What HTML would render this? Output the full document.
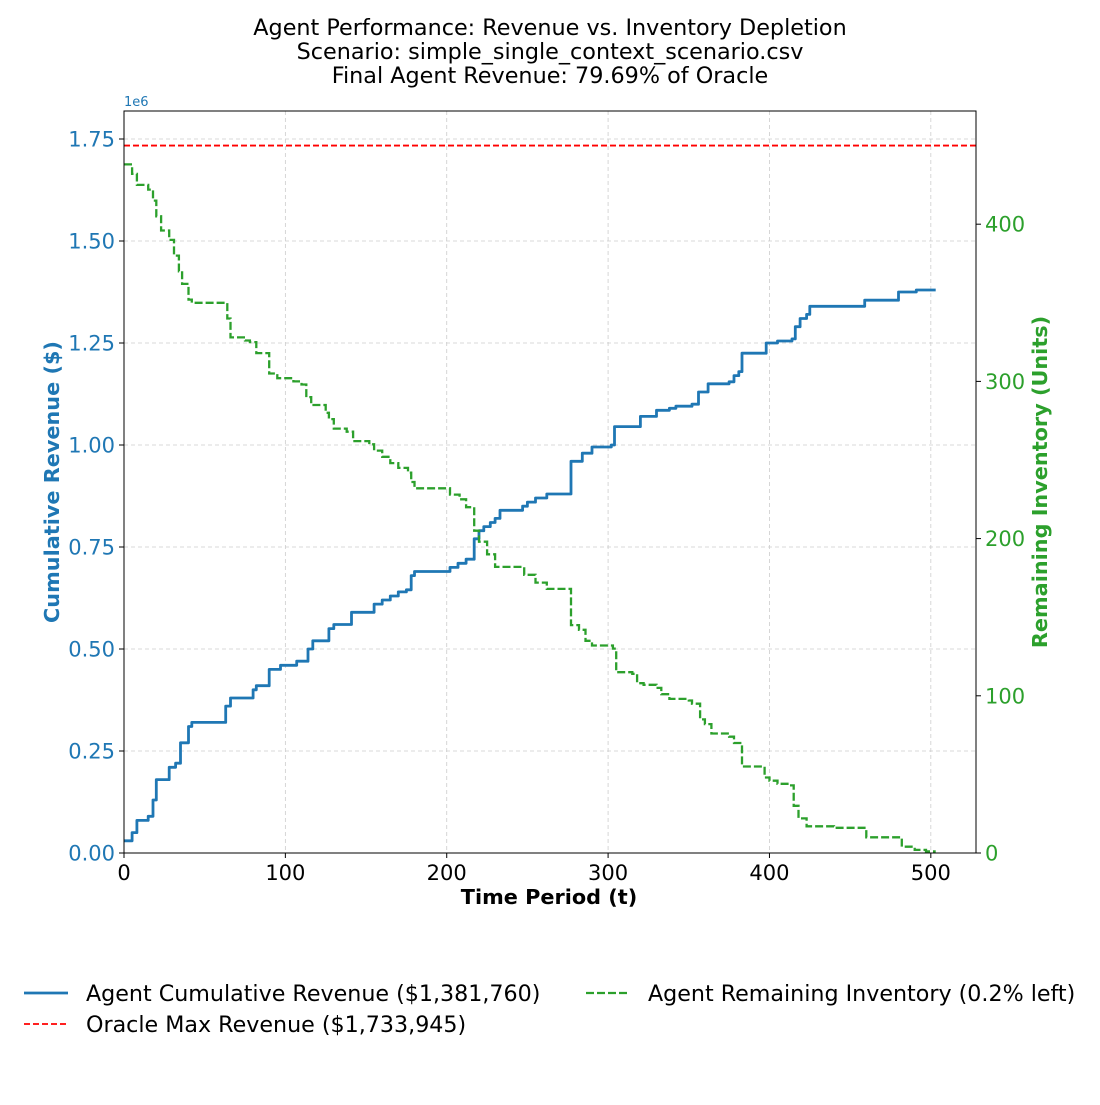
<!DOCTYPE html>
<html><head><meta charset="utf-8"><style>
body{margin:0;background:#fff;font-family:"Liberation Sans","DejaVu Sans",sans-serif}
svg text{font-family:"DejaVu Sans","Liberation Sans",sans-serif}
</style></head><body>
<svg id="c" width="1100" height="1100" xmlns="http://www.w3.org/2000/svg"></svg>
<script>
const revT=[0,5,8,15,18,20,25,28,32,35,38,40,42,60,63,66,75,80,82,89,90,95,97,105,107,112,114,117,126,127,130,140,141,150,155,160,165,170,175,178,180,200,202,207,212,217,220,223,227,230,233,247,250,255,262,275,277,282,284,290,302,304,317,320,330,338,342,352,356,362,375,378,381,383,396,398,405,414,416,419,423,425,441,459,480,491,503];
const revV=[0.03,0.05,0.08,0.09,0.13,0.18,0.18,0.21,0.22,0.27,0.27,0.31,0.32,0.32,0.36,0.38,0.38,0.40,0.41,0.41,0.45,0.45,0.46,0.46,0.47,0.47,0.50,0.52,0.52,0.55,0.56,0.56,0.59,0.59,0.61,0.62,0.63,0.64,0.645,0.68,0.69,0.69,0.70,0.71,0.72,0.77,0.79,0.80,0.81,0.82,0.84,0.85,0.86,0.87,0.88,0.88,0.96,0.96,0.98,0.995,1.0,1.045,1.045,1.07,1.085,1.09,1.095,1.10,1.13,1.15,1.155,1.17,1.18,1.225,1.225,1.25,1.255,1.26,1.29,1.31,1.32,1.34,1.34,1.355,1.375,1.38,1.38];
const invT=[0,5,8,15,18,20,23,28,31,34,36,40,42,60,64,66,75,78,82,88,90,95,105,110,113,116,125,127,130,138,142,152,155,160,165,170,176,178,180,200,202,208,212,217,220,225,230,245,248,255,262,275,277,282,286,290,303,305,315,318,322,330,333,338,350,352,357,360,364,375,378,383,395,397,400,405,412,415,418,423,438,440,458,460,480,482,490,497,503];
const invV=[438,432,425,422,415,405,396,390,380,370,362,352,350,350,340,328,326,325,318,318,305,302,300,298,290,285,280,276,270,268,262,260,256,252,248,245,242,236,232,232,228,225,220,205,198,190,182,182,177,172,168,168,145,142,135,132,130,115,114,108,107,105,101,98,97,95,85,82,76,74,70,55,55,48,46,44,43,30,22,17,17,16,16,10,10,4,2,1,1];
const oracle=1.733945;
const xTicks=[0,100,200,300,400,500];
const yTicks=[0,0.25,0.5,0.75,1.0,1.25,1.5,1.75];
const y2Ticks=[0,100,200,300,400];
const X0=124,X1=976,Y0=853,Y1=111;
const xs=t=>X0+t*(X1-X0)/528;
const ys=v=>Y0-v*(Y0-Y1)/1.8186;
const y2s=v=>Y0-v*(Y0-Y1)/472;
const svg=document.getElementById('c');const NS='http://www.w3.org/2000/svg';
function mk(tag,at,txt){const e=document.createElementNS(NS,tag);for(const k in at)e.setAttribute(k,at[k]);if(txt!==undefined)e.textContent=txt;svg.appendChild(e);return e;}
function stepPts(T,V,fy){const p=[];T.forEach((t,i)=>{if(i>0)p.push(xs(t).toFixed(1)+','+fy(V[i-1]).toFixed(1));p.push(xs(t).toFixed(1)+','+fy(V[i]).toFixed(1));});return p.join(' ');}
let e;
xTicks.forEach(t=>{e=mk('line',{x1:xs(t),x2:xs(t),y1:Y1,y2:Y0,stroke:'#ccc','stroke-dasharray':'4,3','stroke-width':0.8});

});
yTicks.forEach(v=>{e=mk('line',{x1:X0,x2:X1,y1:ys(v),y2:ys(v),stroke:'#ccc','stroke-dasharray':'4,3','stroke-width':0.8});

});
e=mk('line',{x1:X0,x2:X1,y1:ys(oracle),y2:ys(oracle),stroke:'#ff0000','stroke-width':1.8,'stroke-dasharray':'6,3'});


e=mk('polyline',{points:stepPts(revT,revV,ys),fill:'none',stroke:'#1f77b4','stroke-width':2.8,'stroke-linejoin':'round'});


e=mk('polyline',{points:stepPts(invT,invV,y2s),fill:'none',stroke:'#2ca02c','stroke-width':2.3,'stroke-dasharray':'8,3'});


e=mk('rect',{x:X0,y:Y1,width:X1-X0,height:Y0-Y1,fill:'none',stroke:'#000','stroke-width':1});


xTicks.forEach(t=>{mk('line',{x1:xs(t),x2:xs(t),y1:Y0,y2:Y0+5,stroke:'#000'});
e=mk('text',{x:xs(t),y:Y0+27,'text-anchor':'middle','font-size':21},String(t));

});
yTicks.forEach(v=>{mk('line',{x1:X0-5,x2:X0,y1:ys(v),y2:ys(v),stroke:'#000'});
e=mk('text',{x:X0-9,y:ys(v)+7.5,'text-anchor':'end','font-size':21,fill:'#1f77b4'},v.toFixed(2));

});
y2Ticks.forEach(v=>{mk('line',{x1:X1,x2:X1+5,y1:y2s(v),y2:y2s(v),stroke:'#000'});
e=mk('text',{x:X1+9,y:y2s(v)+7.5,'font-size':21,fill:'#2ca02c'},String(v));

});
e=mk('text',{x:124,y:106,'font-size':13,fill:'#1f77b4'},'1e6');


e=mk('text',{x:549,y:904,'text-anchor':'middle','font-size':20.8,'font-weight':'bold'},'Time Period (t)');


e=mk('text',{x:0,y:0,'text-anchor':'middle','font-size':20.8,'font-weight':'bold',fill:'#1f77b4',transform:'translate(59,482) rotate(-90)'},'Cumulative Revenue ($)');


e=mk('text',{x:0,y:0,'text-anchor':'middle','font-size':20.8,'font-weight':'bold',fill:'#2ca02c',transform:'translate(1047,482) rotate(-90)'},'Remaining Inventory (Units)');


['Agent Performance: Revenue vs. Inventory Depletion','Scenario: simple_single_context_scenario.csv','Final Agent Revenue: 79.69% of Oracle'].forEach((s,i)=>{
e=mk('text',{x:550,y:35+i*24,'text-anchor':'middle','font-size':22.3},s);

});
mk('line',{x1:24,x2:68,y1:993,y2:993,stroke:'#1f77b4','stroke-width':2.8});
e=mk('text',{x:86,y:1001,'font-size':22.2},'Agent Cumulative Revenue ($1,381,760)');


mk('line',{x1:24,x2:68,y1:1024,y2:1024,stroke:'#ff0000','stroke-width':1.8,'stroke-dasharray':'6,3'});
e=mk('text',{x:86,y:1032,'font-size':22.2},'Oracle Max Revenue ($1,733,945)');


mk('line',{x1:586,x2:630,y1:993,y2:993,stroke:'#2ca02c','stroke-width':2.3,'stroke-dasharray':'8,3'});
e=mk('text',{x:648,y:1001,'font-size':22.2},'Agent Remaining Inventory (0.2% left)');


</script>
</body></html>
